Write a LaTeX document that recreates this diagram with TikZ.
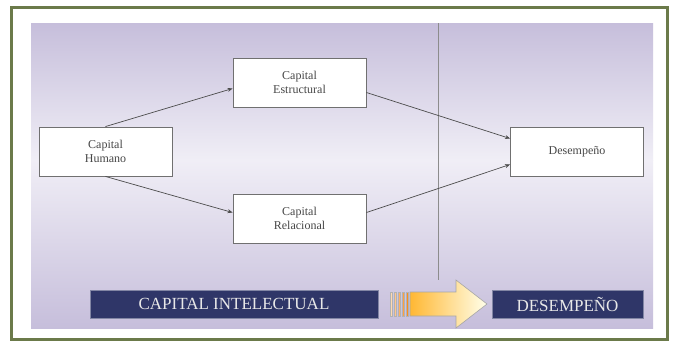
\documentclass[tikz,border=0pt]{standalone}
\usepackage{fontspec}
\setmainfont{Liberation Serif}
\usetikzlibrary{arrows.meta}
\definecolor{frame}{HTML}{6B7A4A}
\definecolor{lav}{HTML}{C6BEDB}
\definecolor{lavlight}{HTML}{F0EEF6}
\definecolor{navy}{HTML}{2F3668}
\definecolor{boxline}{HTML}{707070}
\tikzset{
  concept/.style={draw=boxline, line width=0.9pt, fill=white, minimum width=133pt,
    minimum height=49pt, align=center, font=\fontsize{12}{14}\selectfont, text=black!72},
  banner/.style={fill=navy, draw=navy!60, minimum height=28pt, text=white!82!gray,
    font=\fontsize{17}{18}\selectfont},
  link/.style={draw=black!70, line width=0.7pt, -{Stealth[length=5pt,width=4pt]}},
}
\begin{document}
\begin{tikzpicture}[x=1pt,y=-1pt]
\useasboundingbox (0,0) rectangle (676,346);
\fill[white] (0,0) rectangle (676,346);
% outer frame
\draw[frame, line width=3pt] (11,7) rectangle (667,339);
% lavender panel with soft vertical gradient
\shade[top color=lav, bottom color=lavlight] (31,23) rectangle (653,160);
\shade[top color=lavlight, bottom color=lav] (31,160) rectangle (653,328);
% divider
\draw[black!45, line width=0.5pt] (438,23) -- (438,280);

\node[concept] (hum) at (105.5,151.5) {Capital\\Humano};
\node[concept] (est) at (299.5,82.5) {Capital\\Estructural};
\node[concept] (rel) at (299.5,218.5) {Capital\\Relacional};
\node[concept] (des) at (577,151.5) {Desempeño};

\draw[link] (hum.north) -- ([yshift=-6pt]est.west);
\draw[link] (hum.south) -- ([yshift=6pt]rel.west);
\draw[link] ([yshift=-10pt]est.east) -- ([yshift=13pt]des.west);
\draw[link] ([yshift=6pt]rel.east) -- ([yshift=-13pt]des.west);

\node[banner, minimum width=288pt] (ci) at (234,304) {CAPITAL INTELECTUAL};
\node[banner, minimum width=151pt] (dp) at (567.5,304) {DESEMPEÑO};

% block arrow between the banners
\shade[left color=orange!70!yellow!80, right color=yellow!8, draw=gray!70, line width=0.6pt]
  (410,292) -- (456,292) -- (456,280) -- (487,304) -- (456,328) -- (456,316) -- (410,316) -- cycle;
\foreach \x/\c in {390/30,394/45,398/60,402/75,406/90}
  \fill[orange!\c!white, draw=gray!60, line width=0.3pt] (\x,292) rectangle (\x+2.5,316);
\end{tikzpicture}
\end{document}
